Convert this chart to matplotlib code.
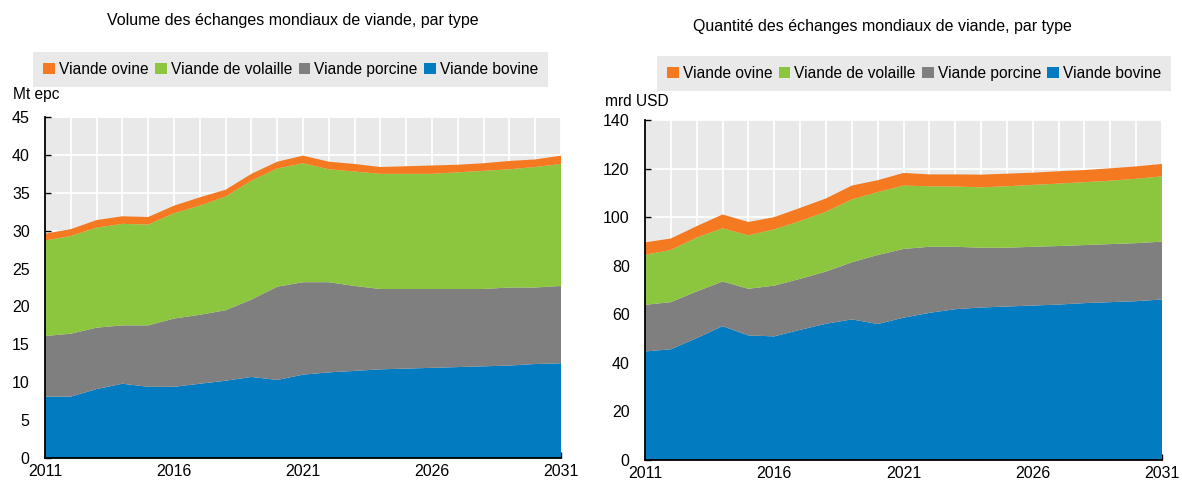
import matplotlib.pyplot as plt
from matplotlib.ticker import MultipleLocator
import numpy as np

plt.rcParams['font.family'] = ['Liberation Sans', 'DejaVu Sans']

years = list(range(2011, 2032))
year_ticks = [2011, 2016, 2021, 2026, 2031]
series_names = ["Viande bovine", "Viande porcine", "Viande de volaille", "Viande ovine"]
colors = ["#037bc1", "#7f7f7f", "#8cc63f", "#f47920"]

# volume (Mt epc)
vol_bovine = [8.1, 8.1, 9.1, 9.8, 9.4, 9.4, 9.8, 10.2, 10.7, 10.3, 11.0,
              11.3, 11.5, 11.7, 11.8, 11.9, 12.0, 12.1, 12.2, 12.4, 12.5]
vol_porcine = [8.0, 8.3, 8.1, 7.7, 8.1, 9.0, 9.1, 9.3, 10.2, 12.3, 12.2,
               11.9, 11.2, 10.6, 10.5, 10.4, 10.3, 10.2, 10.3, 10.1, 10.2]
vol_volaille = [12.6, 12.9, 13.2, 13.4, 13.3, 13.9, 14.4, 15.0, 15.7, 15.6, 15.7,
                14.9, 15.1, 15.2, 15.2, 15.2, 15.4, 15.6, 15.6, 15.9, 16.1]
vol_ovine = [0.9, 0.9, 1.0, 1.0, 1.0, 1.0, 1.1, 0.9, 0.9, 0.9, 1.0,
             1.0, 1.0, 0.9, 1.0, 1.1, 1.0, 1.0, 1.1, 1.0, 1.1]

# valeur (mrd USD)
val_bovine = [44.7, 45.6, 50.2, 55.1, 51.3, 50.9, 53.6, 56.1, 57.9, 56.0, 58.6,
              60.6, 62.1, 62.8, 63.2, 63.6, 64.0, 64.6, 65.0, 65.4, 66.1]
val_porcine = [19.2, 19.4, 19.2, 18.4, 19.2, 20.9, 21.0, 21.5, 23.5, 28.4, 28.3,
               27.2, 25.7, 24.6, 24.2, 24.2, 24.1, 23.9, 23.9, 23.9, 23.8]
val_volaille = [20.6, 21.5, 22.2, 21.9, 22.0, 23.2, 23.8, 24.6, 25.9, 25.9, 26.1,
                24.9, 24.8, 24.9, 25.3, 25.5, 25.7, 25.9, 26.1, 26.5, 26.9]
val_ovine = [5.1, 4.7, 4.7, 5.7, 5.5, 5.0, 5.4, 5.5, 5.7, 4.9, 5.2,
             4.9, 5.0, 5.2, 5.2, 5.0, 5.1, 5.0, 5.1, 5.1, 5.1]

W, H = 1182, 483
fig = plt.figure(figsize=(W / 100, H / 100), dpi=100)

def px_axes(x0, x1, ytop, ybot):
    return fig.add_axes([x0 / W, (H - ybot) / H, (x1 - x0) / W, (ybot - ytop) / H])

ax1 = px_axes(45, 561, 117, 458)
ax2 = px_axes(645, 1162, 120, 460)

def style(ax, ymax, ystep, leg_anchor):
    ax.set_facecolor("#e9e9e9")
    ax.set_xlim(2011, 2031)
    ax.set_ylim(0, ymax)
    ax.set_xticks(year_ticks)
    ax.xaxis.set_minor_locator(MultipleLocator(1))
    ax.yaxis.set_major_locator(MultipleLocator(ystep))
    ax.set_axisbelow(True)
    ax.grid(True, which="both", axis="x", color="white", lw=1.3)
    ax.grid(True, which="major", axis="y", color="white", lw=1.3)
    for s in ["top", "right"]:
        ax.spines[s].set_visible(False)
    for s in ["left", "bottom"]:
        ax.spines[s].set_color("black")
        ax.spines[s].set_linewidth(1.3)
    ax.tick_params(axis="both", which="both", direction="in", length=4, width=1,
                   labelsize=11.5, color="black")
    ax.tick_params(axis="x", pad=4)
    ax.tick_params(axis="y", pad=11)
    handles, labels = ax.get_legend_handles_labels()
    ax.legend(handles[::-1], labels[::-1], loc="lower left", ncol=4,
              bbox_to_anchor=leg_anchor, mode="expand", borderaxespad=0,
              fontsize=11.2, frameon=True, fancybox=False, facecolor="#e9e9e9",
              edgecolor="none", framealpha=1, handlelength=0.75, handleheight=0.75,
              handletextpad=0.25, borderpad=0.65, columnspacing=1.0)

ax1.stackplot(years, vol_bovine, vol_porcine, vol_volaille, vol_ovine,
              colors=colors, labels=series_names, lw=0)
ax2.stackplot(years, val_bovine, val_porcine, val_volaille, val_ovine,
              colors=colors, labels=series_names, lw=0)

style(ax1, 45, 5, (-0.023, 1.088, 0.998, 0.1))
style(ax2, 140, 20, (0.023, 1.085, 0.995, 0.1))

fig.text(293 / W, 1 - 20 / H, "Volume des échanges mondiaux de viande, par type",
         ha="center", va="center", fontsize=11.5)
fig.text(882 / W, 1 - 27 / H, "Quantité des échanges mondiaux de viande, par type",
         ha="center", va="center", fontsize=11.5)
fig.text(13 / W, 1 - 95 / H, "Mt epc", ha="left", va="center", fontsize=11.2)
fig.text(605 / W, 1 - 102 / H, "mrd USD", ha="left", va="center", fontsize=11.2)

fig.savefig("out.png", dpi=100)
